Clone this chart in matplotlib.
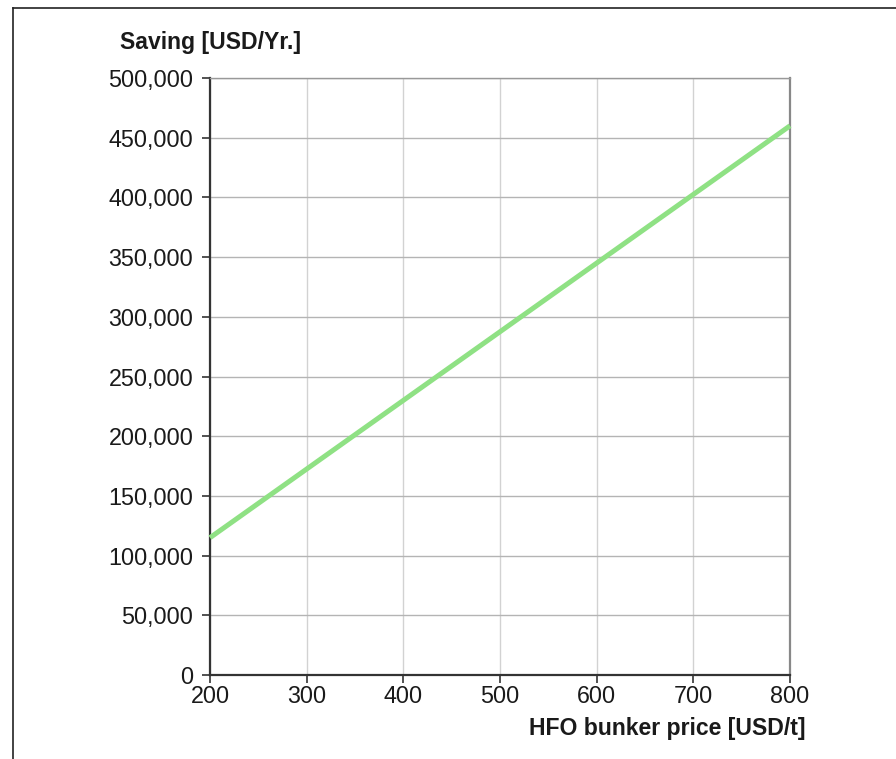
"""Annual saving vs HFO bunker price."""

import matplotlib
matplotlib.use("Agg")
import matplotlib.pyplot as plt
from matplotlib.lines import Line2D
from matplotlib.ticker import FuncFormatter

plt.rcParams["font.family"] = ["Liberation Sans", "DejaVu Sans"]

# data
bunker_price = [200, 300, 400, 500, 600, 700, 800]          # USD/t
saving = [115000, 172500, 230000, 287500, 345000, 402500, 460000]  # USD/yr
x_ticks = [200, 300, 400, 500, 600, 700, 800]
y_ticks = [0, 50000, 100000, 150000, 200000, 250000, 300000,
           350000, 400000, 450000, 500000]

fig = plt.figure(figsize=(8.96, 7.59), dpi=100)
ax = fig.add_axes([0.2344, 0.1107, 0.6473, 0.7865])

ax.plot(bunker_price, saving, color="#8fe184", lw=3.6, solid_capstyle="butt",
        zorder=3, clip_on=False)

ax.set_xlim(200, 800)
ax.set_ylim(0, 500000)
ax.set_xticks(x_ticks)
ax.set_yticks(y_ticks)
ax.yaxis.set_major_formatter(FuncFormatter(lambda v, _: f"{int(v):,}"))

ax.grid(True, axis="x", color="#d2d2d2", lw=1.0)
ax.grid(True, axis="y", color="#b4b4b4", lw=1.0)
ax.set_axisbelow(True)

for side in ("left", "bottom"):
    ax.spines[side].set_color("#333333")
    ax.spines[side].set_linewidth(1.6)
ax.spines["top"].set_color("#999999")
ax.spines["top"].set_linewidth(1.0)
ax.spines["right"].set_color("#888888")
ax.spines["right"].set_linewidth(1.6)

ax.tick_params(axis="both", labelsize=16.8, colors="#333333", labelcolor="#1a1a1a",
               length=6, width=1.2)
ax.tick_params(axis="y", pad=6)
ax.tick_params(axis="x", pad=1)

ax.text(0.0, 1.06, "Saving [USD/Yr.]", transform=ax.transAxes, ha="center",
        va="center", fontsize=16.6, fontweight="bold", color="#1a1a1a")
ax.text(1.026, -0.09, "HFO bunker price [USD/t]", transform=ax.transAxes,
        ha="right", va="center", fontsize=16.6, fontweight="bold", color="#1a1a1a")

# outer frame (only top and left edges are visible in the original)
fig.add_artist(Line2D([0.0145, 0.0145], [0.0, 0.9895], transform=fig.transFigure,
                      color="#222222", lw=1.2))
fig.add_artist(Line2D([0.0145, 1.0], [0.9895, 0.9895], transform=fig.transFigure,
                      color="#222222", lw=1.2))

fig.savefig("out.png", dpi=100)
